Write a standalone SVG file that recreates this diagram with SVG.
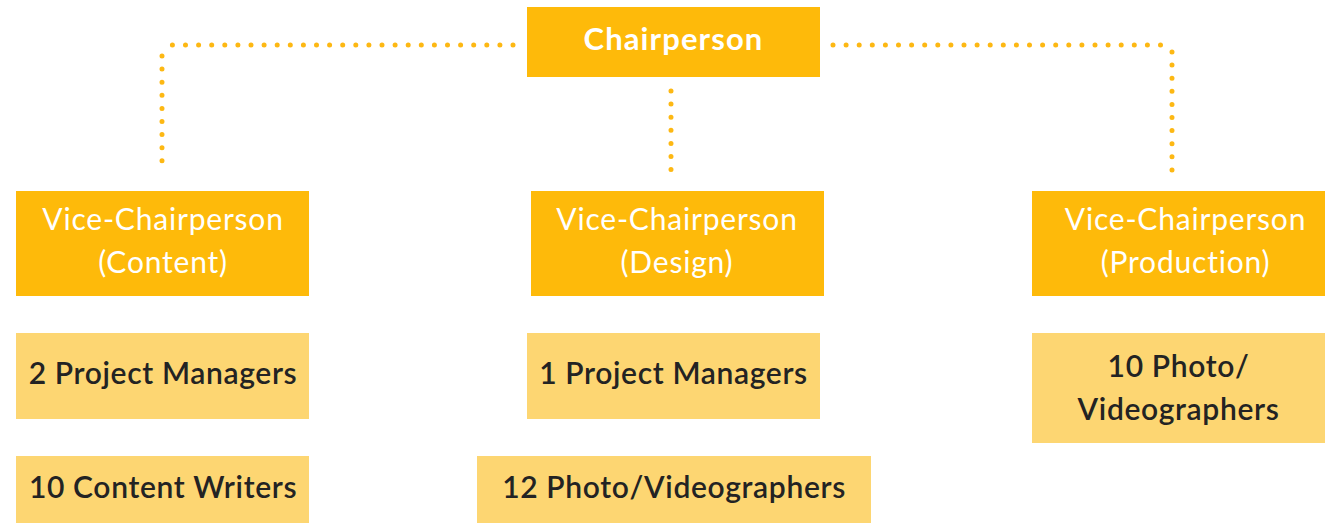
<svg xmlns="http://www.w3.org/2000/svg" width="1332" height="523" viewBox="0 0 1332 523">
  <style>
    .lead { fill: #FEBA0A; }
    .staff { fill: #FDD672; }
    .t-lead { font-family: "Lato", "Liberation Sans", sans-serif; font-size: 30px; letter-spacing: 0.8px; fill: #FFFFFF; text-anchor: middle; }
    .t-head { font-family: "Lato", "Liberation Sans", sans-serif; font-size: 31px; font-weight: 700; letter-spacing: 1.1px; fill: #FFFFFF; text-anchor: middle; }
    .t-staff { font-family: "Lato", "Liberation Sans", sans-serif; font-size: 30px; font-weight: 600; letter-spacing: 0.65px; fill: #232323; text-anchor: middle; }
    .dots { fill: none; stroke: #FDB813; stroke-width: 5; stroke-linecap: round; stroke-dasharray: 0 13.1; }
  </style>

  <!-- dotted reporting lines -->
  <g id="connectors">
    <path class="dots" d="M513 45 L168 45"/>
    <path class="dots" d="M162 56 L162 161"/>
    <path class="dots" d="M833 45 L1162 45"/>
    <path class="dots" d="M1172 52 L1172 170"/>
    <path class="dots" d="M671 91 L671 170"/>
  </g>

  <g id="chairperson">
    <rect class="lead" x="527" y="7" width="293" height="70"/>
    <text class="t-head" x="673.5" y="50">Chairperson</text>
  </g>

  <g id="vc-content">
    <rect class="lead" x="16" y="191" width="293" height="105"/>
    <text class="t-lead" x="163" y="230">Vice-Chairperson</text>
    <text class="t-lead" x="163" y="273">(Content)</text>
  </g>

  <g id="vc-design">
    <rect class="lead" x="531" y="191" width="293" height="105"/>
    <text class="t-lead" x="677" y="230">Vice-Chairperson</text>
    <text class="t-lead" x="677" y="273">(Design)</text>
  </g>

  <g id="vc-production">
    <rect class="lead" x="1032" y="191" width="293" height="105"/>
    <text class="t-lead" x="1185.5" y="230">Vice-Chairperson</text>
    <text class="t-lead" x="1185.5" y="273">(Production)</text>
  </g>

  <g id="content-pm">
    <rect class="staff" x="16" y="333" width="293" height="86"/>
    <text class="t-staff" x="163" y="384">2 Project Managers</text>
  </g>

  <g id="content-writers">
    <rect class="staff" x="16" y="456" width="293" height="67"/>
    <text class="t-staff" x="163" y="498">10 Content Writers</text>
  </g>

  <g id="design-pm">
    <rect class="staff" x="527" y="333" width="293" height="86"/>
    <text class="t-staff" x="673.5" y="384">1 Project Managers</text>
  </g>

  <g id="design-photo">
    <rect class="staff" x="477" y="456" width="394" height="67"/>
    <text class="t-staff" x="674" y="498">12 Photo/Videographers</text>
  </g>

  <g id="production-photo">
    <rect class="staff" x="1032" y="333" width="293" height="110"/>
    <text class="t-staff" x="1178.5" y="377">10 Photo/</text>
    <text class="t-staff" x="1178.5" y="420">Videographers</text>
  </g>
</svg>
